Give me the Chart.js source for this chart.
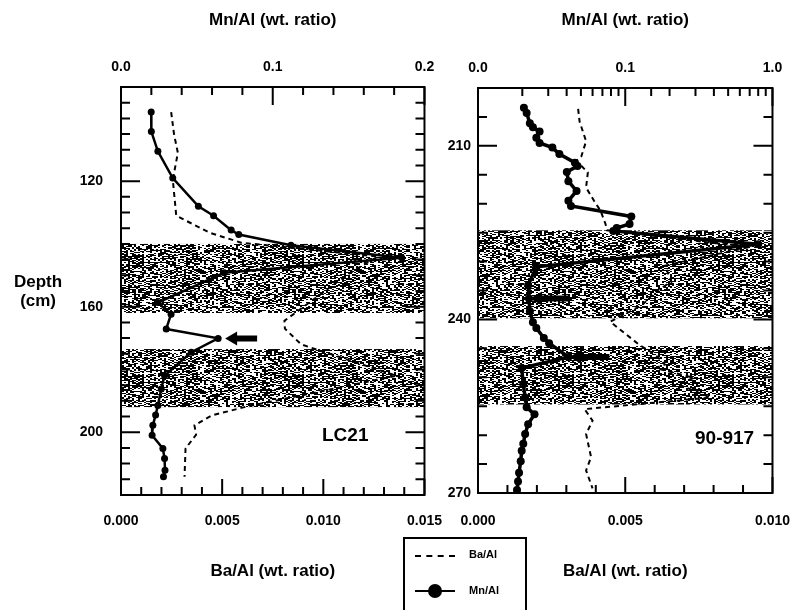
<!DOCTYPE html>
<html>
<head>
<meta charset="utf-8">
<script src="https://cdn.jsdelivr.net/npm/chart.js@4/dist/chart.umd.min.js"></script>
<style>
  body { margin: 0; background: #fff; width: 810px; height: 610px; overflow: hidden; position: relative;
         font-family: "Liberation Sans", Arial, sans-serif; font-weight: bold; color: #000; }
  canvas { position: absolute; top: 0; }
  #lc21 { left: 0; }
  #vf917 { left: 430px; }
  .txt { position: absolute; white-space: nowrap; }
  #depth { left: 14px; top: 272px; font-size: 17px; text-align: center; line-height: 19px; }
  .core { font-size: 19px; }
  #legend { position: absolute; left: 403px; top: 537px; width: 120px; height: 80px; border: 2px solid #000; border-bottom: none; }
  #legend .ln { position: absolute; left: 10px; width: 40px; }
  #legend .t { position: absolute; left: 64px; font-size: 11px; }
</style>
</head>
<body>
<canvas id="lc21" width="460" height="610"></canvas>
<canvas id="vf917" width="380" height="610"></canvas>

<div id="depth" class="txt">Depth<br>(cm)</div>
<div class="txt core" style="left:322px;top:424px">LC21</div>
<div class="txt core" style="left:695px;top:427px">90-917</div>

<div id="legend">
  <div class="ln" style="top:16px;border-top:2px dashed #000"></div>
  <div class="t" style="top:9px">Ba/Al</div>
  <div class="ln" style="top:51px;border-top:2px solid #000"></div>
  <div style="position:absolute;left:23px;top:45px;width:14px;height:14px;border-radius:7px;background:#000"></div>
  <div class="t" style="top:45px">Mn/Al</div>
</div>

<script>
// core LC21
const lcMnDepth = [98, 104.2, 110.5, 119, 128, 131, 135.6, 137, 140.4, 144.4, 149.2, 158.7, 162.4, 167.1, 170.1,
  174.5, 182, 186.2, 191.5, 194.5, 197.8, 201, 205.2, 208.4, 212.1, 214.2];
const lcMn = [0.0199, 0.020, 0.0243, 0.0341, 0.051, 0.061, 0.0726, 0.0776, 0.112, 0.185, 0.068, 0.0243, 0.033, 0.0298, 0.064,
  0.0463, 0.0287, 0.0265, 0.0243, 0.0228, 0.021, 0.0205, 0.0276, 0.0287, 0.029, 0.028];
const lcBaDepth = [98, 105, 111, 119.5, 131, 136.4, 139.6, 144, 149.7, 164.5, 167, 172, 182, 192, 194.7, 197.8,
  200.8, 205.2, 214.2];
const lcBa = [0.00248, 0.00262, 0.00281, 0.00256, 0.00273, 0.00437, 0.00594, 0.0127, 0.0112, 0.00808, 0.0081, 0.0089,
  0.0136, 0.0061, 0.00446, 0.00363, 0.00371, 0.00319, 0.00314];
const lcBands = [[140, 162], [173.5, 192]];
const lcArrows = [[170.1, 0.064]];
const lcDepthLabels = [120, 160, 200];
const lcMnLabels = [[0, "0.0"], [0.1, "0.1"], [0.2, "0.2"]];
const lcBaLabels = [[0, "0.000"], [0.005, "0.005"], [0.01, "0.010"], [0.015, "0.015"]];

// core 90-917
const vfMnDepth = [203.4, 204.3, 206.1, 206.8, 207.5, 208.6, 209.5, 210.3, 211.4, 212.9, 213.5, 214.5, 216.1, 217.8,
  219.5, 220.4, 222.2, 223.5, 224.2, 224.7, 227, 230.9, 234.1, 236.4, 238.6, 240.5, 241.5, 243.2, 244.1, 246.5,
  248.4, 251.2, 253.5, 255.2, 256.4, 258.1, 259.8, 261.5, 262.7, 264.5, 266.5, 268, 269.5];
const vfMn = [0.0205, 0.0214, 0.0225, 0.0236, 0.0262, 0.0249, 0.0262, 0.032, 0.0357, 0.0455, 0.0474, 0.0401, 0.0411, 0.0467,
  0.0411, 0.0428, 0.110, 0.107, 0.0875, 0.083, 0.80, 0.0249, 0.0219, 0.0222, 0.0225, 0.0236, 0.0249, 0.028, 0.0304, 0.0411,
  0.0198, 0.0203, 0.0209, 0.0214, 0.0242, 0.0219, 0.0209, 0.0203, 0.0198, 0.0195, 0.0190, 0.0187, 0.0184];
const vfBaDepth = [203.6, 205.8, 209.2, 211.8, 212.6, 214.6, 217.2, 219.5, 221.2, 223.5, 224.6, 227.5, 230.7, 233.5,
  235.2, 237.5, 240.4, 244.4, 246.1, 247.8, 248.4, 250.1, 251.2, 253.5, 255.5, 257.5, 259.8, 263.8, 266.1, 269.2];
const vfBa = [0.0034, 0.00345, 0.00367, 0.00351, 0.00334, 0.00373, 0.00367, 0.00394, 0.00416, 0.00433, 0.00438, 0.0092,
  0.00635, 0.00657, 0.00602, 0.00558, 0.00449, 0.00548, 0.00602, 0.00635, 0.00602, 0.00733, 0.00679, 0.0079,
  0.00362, 0.00389, 0.00367, 0.00384, 0.00367, 0.00389];
const vfBands = [[224.6, 239.8], [244.6, 254.7]];
const vfArrows = [[236.4, 0.0222], [246.5, 0.0411]];
const vfDepthLabels = [210, 240, 270];
const vfMnLabels = [[0.01, "0.0"], [0.1, "0.1"], [1, "1.0"]];
const vfBaLabels = [[0, "0.000"], [0.005, "0.005"], [0.01, "0.010"]];

const FONT = "'Liberation Sans', Arial, sans-serif";
const tickFont = { family: FONT, size: 14, weight: "bold" };
const titleFont = { family: FONT, size: 17, weight: "bold" };

// stipple texture for the sapropel bands
function stipple() {
  const W = 160, H = 120;
  const c = document.createElement("canvas");
  c.width = W; c.height = H;
  const g = c.getContext("2d");
  const img = g.createImageData(W, H);
  for (let y = 0; y < H; y++) {
    for (let x = 0; x < W; x++) {
      let h = ((x >> 1) * 73856093) ^ (y * 19349663) ^ 0x5bd1e995;
      h = Math.imul(h ^ (h >>> 15), 0x2c1b3c6d);
      h = Math.imul(h ^ (h >>> 12), 0x297a2d39);
      h = Math.imul(h ^ (h >>> 15), 0x85ebca6b);
      h = (h ^ (h >>> 16)) >>> 0;
      const v = (h % 1000) < 450 ? 255 : 0;
      const i = (y * W + x) * 4;
      img.data[i] = img.data[i + 1] = img.data[i + 2] = v;
      img.data[i + 3] = 255;
    }
  }
  g.putImageData(img, 0, 0);
  return c;
}
const tex = stipple();

function labelFor(list) {
  return v => {
    const hit = list.find(l => Math.abs(l[0] - v) < 1e-9);
    return hit ? String(hit[1]) : "";
  };
}

const bands = {
  id: "bands",
  beforeDatasetsDraw(chart, args, opts) {
    const { ctx, chartArea: a } = chart;
    const y = chart.scales.y;
    ctx.save();
    ctx.fillStyle = ctx.createPattern(tex, "repeat");
    opts.list.forEach(b => {
      const y0 = y.getPixelForValue(b[0]), y1 = y.getPixelForValue(b[1]);
      ctx.fillRect(a.left, y0, a.right - a.left, y1 - y0);
    });
    ctx.restore();
  }
};

const frame = {
  id: "frame",
  afterDraw(chart, args, opts) {
    const { ctx, chartArea: a } = chart;
    ctx.save();
    ctx.strokeStyle = "#000";
    ctx.lineWidth = 2;
    ctx.strokeRect(a.left, a.top, a.right - a.left, a.bottom - a.top);
    const s = chart.scales;
    ctx.beginPath();
    s.y.ticks.forEach(t => {
      const p = s.y.getPixelForValue(t.value);
      const len = t.label ? 19 : 9;
      ctx.moveTo(a.left, p); ctx.lineTo(a.left + len, p);
      ctx.moveTo(a.right, p); ctx.lineTo(a.right - len, p);
    });
    s.mn.ticks.forEach(t => {
      const p = s.mn.getPixelForValue(t.value);
      const len = t.label ? 18 : 8;
      ctx.moveTo(p, a.top); ctx.lineTo(p, a.top + len);
    });
    s.ba.ticks.forEach(t => {
      const p = s.ba.getPixelForValue(t.value);
      const len = t.label ? 16 : 8;
      ctx.moveTo(p, a.bottom); ctx.lineTo(p, a.bottom - len);
    });
    ctx.stroke();

    // arrows pointing at marked Mn peaks
    ctx.fillStyle = "#000";
    opts.arrows.forEach(ar => {
      const px = s.mn.getPixelForValue(ar[1]) + opts.gap;
      const py = s.y.getPixelForValue(ar[0]);
      ctx.beginPath();
      ctx.moveTo(px, py);
      ctx.lineTo(px + 12, py - 7);
      ctx.lineTo(px + 12, py - 3);
      ctx.lineTo(px + opts.len, py - 3);
      ctx.lineTo(px + opts.len, py + 3);
      ctx.lineTo(px + 12, py + 3);
      ctx.lineTo(px + 12, py + 7);
      ctx.closePath();
      ctx.fill();
    });
    ctx.restore();
  }
};

function makePanel(id, cfg) {
  return new Chart(document.getElementById(id), {
    type: "scatter",
    data: {
      datasets: [
        {
          label: "Ba/Al",
          data: cfg.baDepth.map((d, i) => ({ x: cfg.ba[i], y: d })),
          xAxisID: "ba", yAxisID: "y",
          showLine: true, borderColor: "#000", borderWidth: 2, borderDash: [5, 4],
          pointRadius: 0, tension: 0
        },
        {
          label: "Mn/Al",
          data: cfg.mnDepth.map((d, i) => ({ x: cfg.mn[i], y: d })),
          xAxisID: "mn", yAxisID: "y",
          showLine: true, borderColor: "#000", borderWidth: cfg.mnWidth,
          pointRadius: cfg.dot, pointBackgroundColor: "#000", pointBorderWidth: 0, tension: 0
        }
      ]
    },
    options: {
      responsive: false,
      animation: false,
      layout: { padding: { left: 0, right: cfg.padRight, top: 0, bottom: 0 } },
      plugins: {
        legend: { display: false },
        tooltip: { enabled: false },
        bands: { list: cfg.bands },
        frame: { arrows: cfg.arrows, gap: cfg.gap, len: cfg.arrowLen }
      },
      scales: {
        mn: {
          axis: "x", type: cfg.mnType, position: "top", min: cfg.mnMin, max: cfg.mnMax,
          grid: { display: false, drawTicks: false }, border: { display: false },
          ticks: { stepSize: cfg.mnStep, callback: labelFor(cfg.mnLabels), autoSkip: false, maxRotation: 0, padding: 11,
                   font: tickFont, color: "#000" },
          title: { display: true, text: "Mn/Al (wt. ratio)", font: titleFont, color: "#000", padding: { top: 10 } },
          afterFit: s => { s.height = cfg.topH; }
        },
        ba: {
          axis: "x", type: "linear", position: "bottom", min: 0, max: cfg.baMax,
          grid: { display: false, drawTicks: false }, border: { display: false },
          ticks: { stepSize: 0.001, callback: labelFor(cfg.baLabels), autoSkip: false, maxRotation: 0,
                   padding: cfg.baPad, font: tickFont, color: "#000" },
          title: { display: true, text: "Ba/Al (wt. ratio)", font: titleFont, color: "#000", padding: { bottom: 28 } },
          afterFit: s => { s.height = cfg.botH; }
        },
        y: {
          axis: "y", type: "linear", position: "left", reverse: true, min: cfg.yMin, max: cfg.yMax,
          grid: { display: false, drawTicks: false }, border: { display: false },
          ticks: { stepSize: 5, callback: v => cfg.depthLabels.includes(v) ? String(v) : "", autoSkip: false,
                   padding: cfg.yPad, font: tickFont, color: "#000" },
          afterFit: s => { s.width = cfg.yW; }
        }
      }
    },
    plugins: [bands, frame]
  });
}

makePanel("lc21", {
  mnDepth: lcMnDepth, mn: lcMn, baDepth: lcBaDepth, ba: lcBa, bands: lcBands, arrows: lcArrows,
  mnLabels: lcMnLabels, baLabels: lcBaLabels, depthLabels: lcDepthLabels,
  mnType: "linear", mnMin: 0, mnMax: 0.2, mnStep: 0.02,
  baMax: 0.015, yMin: 90, yMax: 220, yW: 121, yPad: 18, topH: 87, botH: 115, padRight: 35, baPad: 18,
  dot: 3.5, mnWidth: 2.5, gap: 7, arrowLen: 32
});

makePanel("vf917", {
  mnDepth: vfMnDepth, mn: vfMn, baDepth: vfBaDepth, ba: vfBa, bands: vfBands, arrows: vfArrows,
  mnLabels: vfMnLabels, baLabels: vfBaLabels, depthLabels: vfDepthLabels,
  mnType: "logarithmic", mnMin: 0.01, mnMax: 1, mnStep: undefined,
  baMax: 0.01, yMin: 200, yMax: 270, yW: 48, yPad: 7, topH: 88, botH: 117, padRight: 27, baPad: 20,
  dot: 4, mnWidth: 3.5, gap: 1, arrowLen: 40
});
</script>
</body>
</html>
